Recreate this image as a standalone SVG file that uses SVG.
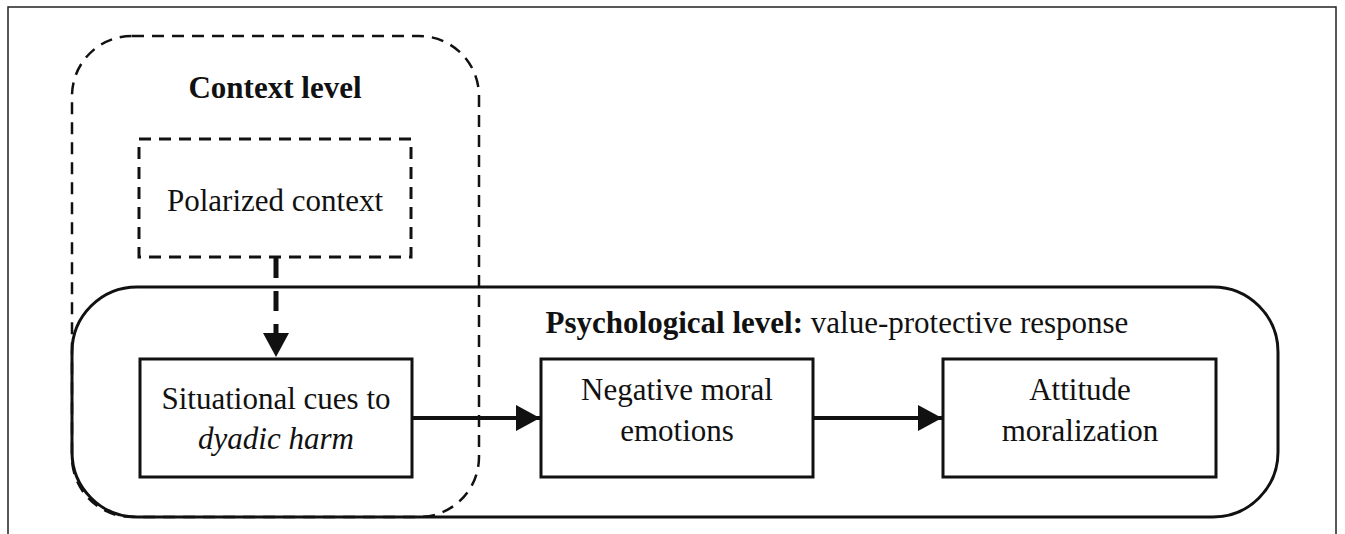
<svg xmlns="http://www.w3.org/2000/svg" width="1345" height="534" viewBox="0 0 1345 534">
<style>
.t{font-size:31px;fill:#111;}
.b{font-weight:bold;}
.i{font-style:italic;}
.box{fill:none;stroke:#111;stroke-width:3;}
.dash{fill:none;stroke:#111;stroke-width:2.5;stroke-dasharray:12 8;}
.conn{stroke:#111;stroke-width:4;fill:none;}
</style>
<defs>
<marker id="ah" markerWidth="24" markerHeight="26" refX="24" refY="13" orient="auto" markerUnits="userSpaceOnUse">
<path d="M0,0 L24,13 L0,26 Z" fill="#111"/>
</marker>
</defs>
<rect width="1345" height="534" fill="#fff"/>
<rect x="8" y="7" width="1328" height="540" fill="none" stroke="#222" stroke-width="1.5"/>
<g font-family="Liberation Serif">
<g id="context-level">
<rect x="72" y="36" width="407" height="481" rx="60" ry="60" class="dash"/>
<text x="275" y="98" text-anchor="middle" class="t b" font-family="Liberation Serif">Context level</text>
</g>
<g id="psychological-level">
<rect x="72" y="287" width="1206" height="230" rx="65" ry="65" class="box" stroke-width="2.5"/>
<text x="837" y="333" text-anchor="middle" class="t" font-family="Liberation Serif"><tspan class="b">Psychological level:</tspan> value-protective response</text>
</g>
<g id="polarized-context">
<rect x="139" y="139" width="272" height="118" class="dash" style="stroke-width:3"/>
<text x="275" y="211" text-anchor="middle" class="t" font-family="Liberation Serif">Polarized context</text>
</g>
<g id="situational-cues">
<rect x="140" y="359" width="272" height="118" class="box" style="fill:#fff"/>
<text x="276" y="409" text-anchor="middle" class="t" font-family="Liberation Serif">Situational cues to</text>
<text x="276" y="449" text-anchor="middle" class="t i" font-family="Liberation Serif">dyadic harm</text>
</g>
<g id="negative-moral-emotions">
<rect x="541" y="359" width="272" height="118" class="box"/>
<text x="677" y="400" text-anchor="middle" class="t" font-family="Liberation Serif">Negative moral</text>
<text x="677" y="441" text-anchor="middle" class="t" font-family="Liberation Serif">emotions</text>
</g>
<g id="attitude-moralization">
<rect x="943" y="359" width="273" height="118" class="box"/>
<text x="1080" y="400" text-anchor="middle" class="t" font-family="Liberation Serif">Attitude</text>
<text x="1080" y="441" text-anchor="middle" class="t" font-family="Liberation Serif">moralization</text>
</g>
</g>
<g id="connectors">
<line x1="276" y1="258" x2="276" y2="357" stroke="#111" stroke-width="5" stroke-dasharray="20 13" marker-end="url(#ah)"/>
<line x1="412" y1="418" x2="540" y2="418" class="conn" marker-end="url(#ah)"/>
<line x1="813" y1="418" x2="942" y2="418" class="conn" marker-end="url(#ah)"/>
</g>
</svg>
